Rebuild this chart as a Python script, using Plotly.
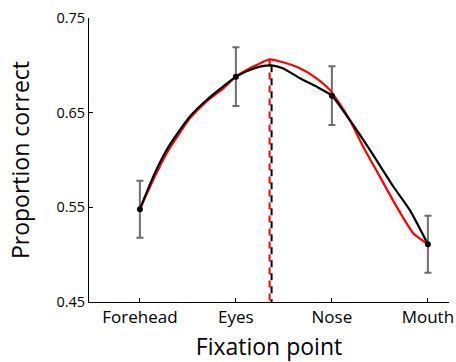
import plotly.graph_objects as go

categories = ["Forehead", "Eyes", "Nose", "Mouth"]
cat_pos = [1, 2, 3, 4]
point_vals = [0.548, 0.688, 0.668, 0.511]
point_err = [0.030, 0.031, 0.031, 0.030]

black_x = [1, 1.139, 1.278, 1.417, 1.521, 1.695, 1.872, 2.0, 2.146, 2.25, 2.372, 2.49,
           2.667, 2.84, 3.0, 3.1875, 3.396, 3.64, 3.8125, 4.0]
black_y = [0.548, 0.5824, 0.6106, 0.6317, 0.646, 0.6634, 0.678, 0.688, 0.695, 0.6986, 0.700, 0.6969,
           0.6863, 0.6775, 0.668, 0.642, 0.6106, 0.572, 0.547, 0.511]

red_x = [1, 1.139, 1.278, 1.417, 1.521, 1.695, 1.872, 2.0, 2.146, 2.25, 2.351, 2.49, 2.667,
         2.84, 2.98, 3.066, 3.1875, 3.326, 3.5, 3.674, 3.847, 4.0]
red_y = [0.548, 0.579, 0.607, 0.629, 0.644, 0.662, 0.676, 0.688, 0.697, 0.702, 0.7062, 0.7032, 0.6969,
         0.6863, 0.674, 0.6616, 0.642, 0.614, 0.5824, 0.5507, 0.5227, 0.511]

red_peak_x, red_peak_y = 2.351, 0.7062
black_peak_x, black_peak_y = 2.372, 0.700
y_min = 0.45

font_family = "Open Sans, Lato, sans-serif"

fig = go.Figure()

# error bars
fig.add_trace(go.Scatter(
    x=cat_pos, y=point_vals, mode="markers",
    marker=dict(size=0.1, color="rgba(0,0,0,0)"),
    error_y=dict(type="data", array=point_err, visible=True,
                 color="rgb(110,110,110)", thickness=2, width=3.5),
    showlegend=False, hoverinfo="skip"))

# dashed peak lines (drawn from peak downward)
fig.add_trace(go.Scatter(
    x=[red_peak_x, red_peak_x], y=[red_peak_y, y_min], mode="lines",
    line=dict(color="red", width=2, dash="7px,6px"), showlegend=False))
fig.add_trace(go.Scatter(
    x=[black_peak_x, black_peak_x], y=[black_peak_y, y_min], mode="lines",
    line=dict(color="black", width=2, dash="7px,6px"), showlegend=False))

# curves
fig.add_trace(go.Scatter(
    x=red_x, y=red_y, mode="lines",
    line=dict(color="red", width=2.2, shape="spline", smoothing=0.5),
    showlegend=False))
fig.add_trace(go.Scatter(
    x=black_x, y=black_y, mode="lines",
    line=dict(color="black", width=2.2, shape="spline", smoothing=0.5),
    showlegend=False))

# points
fig.add_trace(go.Scatter(
    x=cat_pos, y=point_vals, mode="markers",
    marker=dict(size=6, color="black"), showlegend=False))

fig.update_layout(
    width=456, height=362,
    margin=dict(l=89, r=7, t=18, b=60),
    paper_bgcolor="white", plot_bgcolor="white",
    font=dict(family=font_family, color="black"),
    xaxis=dict(
        range=[0.47, 4.22], tickvals=cat_pos, ticktext=categories,
        showline=True, linecolor="black", linewidth=1,
        ticks="inside", ticklen=4, tickcolor="black",
        showgrid=False, zeroline=False, automargin=False,
        tickfont=dict(size=17),
        title=dict(text="Fixation point", font=dict(size=23), standoff=12)),
    yaxis=dict(
        range=[0.45, 0.75], tickvals=[0.45, 0.55, 0.65, 0.75],
        ticktext=["0.45", "0.55", "0.65", "0.75"],
        showline=True, linecolor="black", linewidth=1,
        ticks="inside", ticklen=4, tickcolor="black",
        showgrid=False, zeroline=False, automargin=False,
        tickfont=dict(size=14.5),
        title=dict(text="Proportion correct", font=dict(size=23), standoff=20)),
)

fig.write_html("out.html")
